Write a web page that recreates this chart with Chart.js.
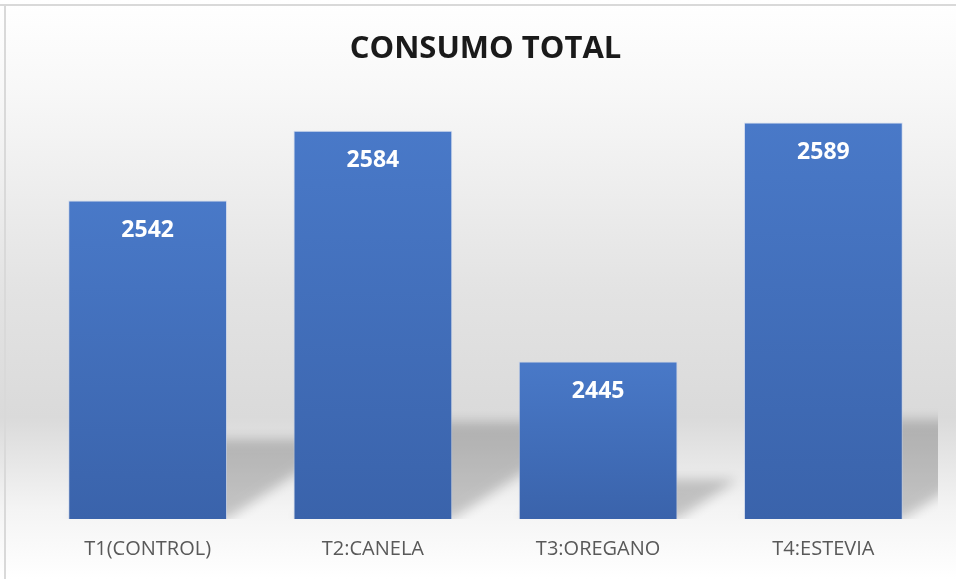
<!DOCTYPE html>
<html>
<head>
<meta charset="utf-8">
<script src="https://cdn.jsdelivr.net/npm/chart.js@4.4.1/dist/chart.umd.min.js"></script>
<style>
  html, body { margin: 0; padding: 0; background: #fff; }
  #wrap { width: 956px; height: 579px; }
</style>
</head>
<body>
<div id="wrap"><canvas id="consumoChart" width="956" height="579"></canvas></div>
<script>
const categories = ['T1(CONTROL)', 'T2:CANELA', 'T3:OREGANO', 'T4:ESTEVIA'];
const consumo = [2542, 2584, 2445, 2589];
const yMin = 2350;
const yMax = 2600;

/* ===== background: soft grey gradient + cropped frame ===== */
const backgroundPlugin = {
  id: 'background',
  beforeDraw(chart) {
    const { ctx, width, height } = chart;
    const g = ctx.createLinearGradient(0, 0, 0, height);
    g.addColorStop(0, '#ffffff');
    g.addColorStop(0.15, '#f8f8f8');
    g.addColorStop(0.5, '#e3e3e3');
    g.addColorStop(0.72, '#dadada');
    g.addColorStop(0.88, '#f4f4f4');
    g.addColorStop(1, '#ffffff');
    ctx.save();
    ctx.fillStyle = g;
    ctx.fillRect(0, 0, width, height);
    ctx.fillStyle = '#d9d9d9';
    ctx.fillRect(0, 4, width, 2);
    ctx.fillRect(4, 4, 2, height - 4);
    ctx.restore();
  }
};

/* ===== perspective shadows behind each bar ===== */
// bar.base points at value 0 (far below the axis min), so use the chart area bottom
const shadowPlugin = {
  id: 'barShadows',
  beforeDatasetsDraw(chart) {
    const { ctx, chartArea } = chart;
    const bars = chart.getDatasetMeta(0).data;
    const bottom = chartArea.bottom;
    const shift = 3000;
    ctx.save();
    ctx.beginPath();
    ctx.rect(chartArea.left, chartArea.top, chartArea.right - chartArea.left + 2, bottom - chartArea.top);
    ctx.clip();
    ctx.shadowColor = 'rgba(0,0,0,0.2)';
    ctx.shadowBlur = 12;
    ctx.shadowOffsetX = shift;
    ctx.fillStyle = '#000';
    bars.forEach(bar => {
      const h = bottom - bar.y;
      const l = bar.x - bar.width / 2 - shift;
      const r = bar.x + bar.width / 2 - shift;
      const dx = h * 0.38;
      const dy = h * 0.25;
      ctx.beginPath();
      ctx.moveTo(l, bottom);
      ctx.lineTo(r, bottom);
      ctx.lineTo(r + dx, bottom - dy);
      ctx.lineTo(l + dx, bottom - dy);
      ctx.closePath();
      ctx.fill();
    });
    ctx.restore();
  }
};

/* ===== value labels inside the top of the bars ===== */
const valueLabels = {
  id: 'valueLabels',
  afterDatasetsDraw(chart) {
    const { ctx } = chart;
    const meta = chart.getDatasetMeta(0);
    ctx.save();
    ctx.font = 'bold 23px "Open Sans"';
    ctx.fillStyle = '#ffffff';
    ctx.textAlign = 'center';
    ctx.textBaseline = 'middle';
    meta.data.forEach((bar, i) => {
      ctx.fillText(consumo[i], bar.x, bar.y + 30);
    });
    ctx.restore();
  }
};

function barGradient(context) {
  const chart = context.chart;
  const area = chart.chartArea;
  if (!area) return '#4472c4';
  const yTop = chart.scales.y.getPixelForValue(context.raw);
  const g = chart.ctx.createLinearGradient(0, yTop, 0, area.bottom);
  g.addColorStop(0, '#4979c8');
  g.addColorStop(1, '#3a63ab');
  return g;
}

const canvas = document.getElementById('consumoChart');
new Chart(canvas.getContext('2d'), {
  type: 'bar',
  data: {
    labels: categories,
    datasets: [{
      label: 'Consumo total',
      data: consumo,
      backgroundColor: barGradient,
      borderColor: 'rgba(190,205,235,0.6)',
      borderWidth: 1,
      borderSkipped: false,
      categoryPercentage: 1,
      barPercentage: 0.705
    }]
  },
  options: {
    responsive: false,
    animation: false,
    layout: { padding: { left: 35, right: 20, top: 0, bottom: 0 } },
    plugins: {
      legend: { display: false },
      tooltip: { enabled: false },
      title: {
        display: true,
        text: 'CONSUMO TOTAL',
        color: '#1a1a1a',
        font: { family: '"Open Sans"', size: 31, weight: 'bold', lineHeight: 1.2 },
        padding: { top: 31, bottom: 36 }
      }
    },
    scales: {
      x: {
        grid: { display: false, drawTicks: false },
        border: { display: false },
        ticks: {
          color: '#595959',
          padding: 18,
          font: { family: '"Open Sans"', size: 20, lineHeight: 1.2 }
        }
      },
      y: {
        display: false,
        min: yMin,
        max: yMax
      }
    }
  },
  plugins: [backgroundPlugin, shadowPlugin, valueLabels]
});
</script>
</body>
</html>
